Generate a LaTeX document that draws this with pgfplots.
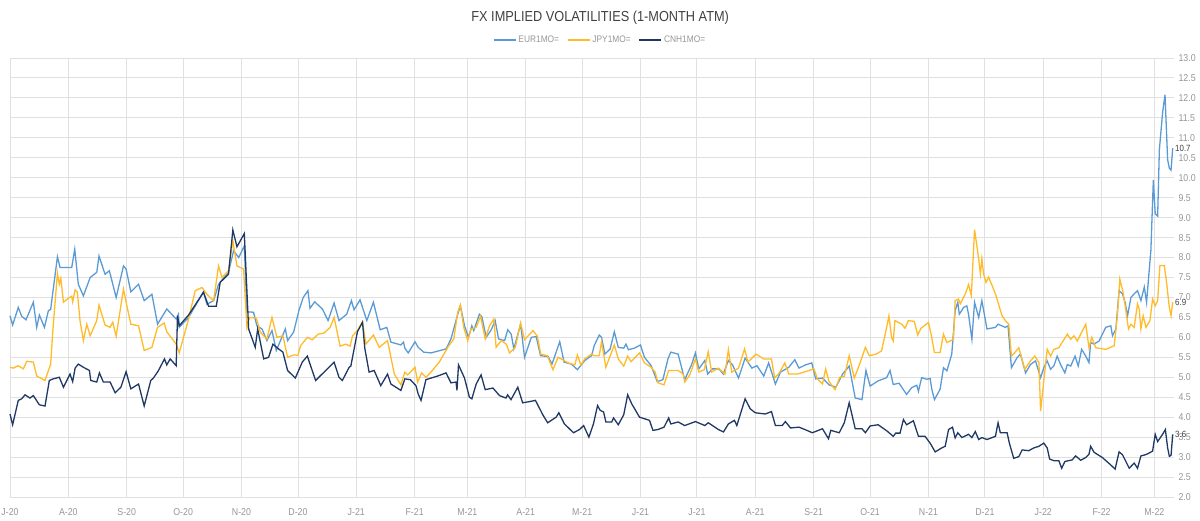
\documentclass[border=0pt]{standalone}
\usepackage{fontspec}
\setmainfont{Liberation Sans}[FakeStretch=0.88]
\usepackage{pgfplots}
\usepackage{pgfplotstable}
\pgfplotsset{compat=1.18}
\definecolor{eur}{RGB}{91,155,213}
\definecolor{jpy}{RGB}{255,187,40}
\definecolor{cnh}{RGB}{31,56,100}
\definecolor{gridc}{RGB}{224,224,224}
\definecolor{tickc}{RGB}{150,150,150}
\definecolor{titlec}{RGB}{64,64,64}

% x = days since 1 Jul 2020
\pgfplotstableread{
d v
0.0 6.54
1.4 6.31
4.4 6.75
6.2 6.53
8.5 6.44
12.4 6.88
14.2 6.25
15.6 6.56
18.3 6.25
20.4 6.67
21.6 6.70
25.2 8.02
26.6 7.75
32.8 7.75
34.4 8.21
36.3 7.33
39.0 7.04
42.6 7.50
46.1 7.63
47.3 8.04
50.5 7.58
52.8 7.67
56.4 7.00
60.3 7.79
61.7 7.71
64.2 7.14
68.3 7.33
71.3 6.92
75.4 7.08
78.4 6.33
83.3 6.71
88.3 6.46
89.5 6.58
89.9 6.25
94.9 6.50
102.8 7.14
104.6 6.83
108.2 6.92
110.8 7.33
116.1 7.63
118.8 8.17
121.5 8.00
124.5 8.29
125.9 6.64
129.4 6.63
131.2 6.29
133.9 6.21
136.5 5.92
139.2 6.17
141.5 5.67
146.3 6.21
147.5 5.92
150.7 6.13
153.5 6.67
155.8 7.00
158.3 7.17
159.4 6.73
161.9 6.89
166.0 6.71
169.0 6.42
172.2 6.86
174.8 6.42
178.9 6.58
181.4 6.92
182.8 6.69
186.0 6.94
189.6 6.42
193.1 6.88
196.7 6.19
200.2 6.25
202.4 5.88
207.7 5.81
209.1 5.88
209.8 5.73
211.6 5.61
215.2 5.89
216.9 5.75
219.8 5.63
223.7 5.61
231.7 5.71
234.3 5.96
237.9 6.58
239.3 6.79
241.5 6.29
243.6 6.00
245.4 6.29
246.4 6.17
249.4 6.58
250.7 6.52
253.0 6.00
255.7 6.19
257.8 6.42
259.6 5.96
262.8 5.92
264.5 6.19
266.3 6.08
267.7 5.71
271.3 6.33
273.4 5.50
277.0 6.00
279.6 6.02
281.9 5.54
285.9 5.52
288.0 5.33
292.1 5.89
294.4 5.38
298.3 5.33
301.5 5.19
305.4 5.42
309.0 5.54
310.4 5.79
313.1 6.06
314.3 6.00
316.1 5.58
318.9 5.71
321.1 6.14
323.2 5.75
326.1 5.73
327.3 5.83
328.6 5.69
331.8 5.73
335.0 5.81
337.1 5.50
340.7 5.29
343.9 4.89
346.9 4.94
349.6 5.46
351.1 5.63
355.0 5.58
358.5 4.94
362.1 5.31
364.2 5.61
366.0 5.21
369.2 5.42
370.7 5.08
373.2 5.21
376.7 5.21
379.0 5.08
381.7 5.42
383.9 5.31
387.1 4.98
390.6 5.48
394.2 5.23
396.9 5.29
400.5 5.03
403.1 5.36
406.7 4.83
409.4 5.13
413.8 5.25
417.0 5.44
419.2 5.23
422.7 5.31
426.0 5.36
428.1 4.96
431.7 4.98
435.2 4.81
438.8 4.75
442.4 5.08
445.9 5.28
449.1 4.48
452.7 4.44
454.8 5.17
457.0 4.78
461.3 4.91
465.8 4.99
467.6 5.17
469.3 4.82
472.4 4.85
476.4 4.57
479.1 4.74
481.8 4.80
482.7 4.65
484.4 4.99
487.1 4.95
488.9 4.97
489.8 4.70
491.2 4.44
494.2 4.70
496.0 5.24
497.8 5.16
500.4 5.58
502.2 6.67
503.6 6.88
504.4 6.58
506.7 6.75
508.4 6.79
509.3 6.58
511.1 5.95
512.5 6.88
514.7 6.50
516.4 6.92
519.1 6.21
523.6 6.25
525.0 6.33
528.9 6.25
530.3 6.29
532.1 5.24
535.1 5.49
536.9 5.58
539.6 5.11
542.2 5.32
544.9 5.41
547.6 4.99
549.3 5.24
551.1 5.41
552.9 5.20
554.7 5.29
556.4 5.53
558.2 5.32
560.5 5.11
561.8 5.32
563.6 5.28
565.9 5.53
567.6 5.28
569.4 5.70
571.6 5.53
573.3 5.37
574.2 5.87
576.0 5.83
578.7 5.91
582.2 6.25
584.9 6.29
585.8 6.04
587.6 6.21
589.3 7.17
591.1 7.09
592.5 6.88
593.8 6.54
595.6 7.00
597.3 7.09
599.1 7.17
600.9 6.92
602.7 7.26
603.9 6.88
606.2 8.18
607.5 9.94
608.5 9.10
609.8 9.04
610.7 10.70
612.4 11.62
613.7 12.08
615.1 10.45
616.0 10.24
616.9 10.19
617.8 10.74
}\eurdata

\pgfplotstableread{
d v
0.0 5.25
1.8 5.23
4.4 5.29
7.1 5.21
8.9 5.40
12.4 5.38
14.2 5.03
18.6 4.92
21.6 5.33
22.7 6.13
25.2 7.61
26.2 7.33
27.0 7.48
28.4 6.88
31.0 6.98
32.8 7.03
33.3 6.89
34.6 7.19
35.8 7.13
37.2 6.42
39.0 5.92
40.8 6.33
42.6 6.04
46.1 6.42
47.3 6.81
50.5 6.31
53.2 6.25
54.6 6.38
56.4 6.03
60.3 7.21
62.1 6.79
64.2 6.33
68.3 6.29
71.3 5.67
75.4 5.75
78.4 6.25
81.9 6.36
83.3 6.14
88.3 5.83
89.9 5.61
94.9 6.46
98.4 7.17
102.0 7.25
104.6 7.08
108.2 6.92
110.8 7.79
112.6 7.50
116.1 7.67
118.4 8.42
120.6 7.79
124.1 7.71
125.9 6.25
127.3 6.50
130.9 6.48
133.0 6.13
136.5 5.96
139.2 6.50
141.8 6.00
145.0 6.04
147.5 5.50
150.7 5.56
153.0 5.55
154.4 5.79
158.0 6.00
160.6 5.94
163.7 6.08
166.9 6.11
170.1 6.25
172.2 6.50
175.4 5.78
178.4 5.83
180.7 5.78
182.0 6.04
184.6 6.17
187.3 6.39
189.1 5.83
193.1 6.06
196.2 5.75
200.6 5.92
204.2 5.08
207.7 4.81
209.8 5.13
211.3 5.06
215.2 5.25
216.6 4.88
218.7 5.11
221.0 5.00
223.7 5.13
228.1 5.38
232.6 5.75
235.8 5.96
237.9 6.63
239.3 6.81
241.1 6.25
243.2 5.92
245.0 6.21
247.7 6.25
250.0 6.53
252.5 5.96
254.8 6.29
257.1 6.46
258.3 5.75
261.0 5.92
263.7 5.83
265.4 5.61
268.5 5.75
271.3 6.36
273.4 5.94
277.9 6.17
280.2 6.03
282.0 5.58
285.5 5.54
288.5 5.19
291.2 5.50
294.4 5.42
296.5 5.36
300.1 5.31
301.5 5.56
303.3 5.31
305.4 5.46
309.0 5.58
310.4 5.54
313.1 5.54
314.3 5.89
316.6 5.25
321.1 5.81
323.2 5.46
326.1 5.28
328.2 5.53
330.0 5.39
334.5 5.61
337.1 5.36
340.7 5.25
342.8 5.13
344.3 4.86
347.5 4.81
350.0 5.17
355.0 5.17
357.7 5.08
358.5 4.88
361.2 5.06
364.2 5.46
366.0 5.13
368.9 5.19
371.0 5.64
372.8 5.13
376.4 5.23
379.9 5.08
381.7 5.69
383.5 5.13
387.1 5.23
390.3 5.71
392.1 5.38
396.4 5.58
400.5 5.46
404.6 5.46
406.3 4.98
408.8 5.11
411.7 5.36
413.8 5.08
418.3 5.08
421.9 5.13
427.2 5.21
429.0 4.96
431.7 4.83
433.4 5.21
435.2 4.89
438.4 4.69
440.9 5.00
443.3 5.02
445.9 5.54
448.6 4.98
451.3 5.31
454.5 5.75
456.6 5.54
460.2 5.58
463.1 5.66
465.8 6.25
467.0 6.54
468.4 6.00
469.3 5.91
470.2 6.42
473.8 6.33
475.6 6.23
477.3 6.42
480.5 6.40
482.3 6.06
484.1 6.23
488.0 6.37
489.4 6.08
491.2 5.62
494.2 5.62
496.0 6.08
497.8 5.87
501.3 5.95
502.2 6.92
504.0 6.96
504.9 6.84
507.6 7.09
509.3 7.32
510.8 7.05
512.5 8.70
514.7 7.97
515.6 7.59
516.4 7.97
517.3 7.59
518.6 7.38
520.0 7.51
523.6 7.09
527.1 6.54
528.9 6.42
530.7 6.33
532.1 5.53
533.9 5.62
536.0 5.74
539.2 5.20
542.2 5.41
544.5 5.53
546.7 5.37
547.6 4.15
549.3 4.91
551.1 5.70
552.9 5.53
554.7 5.70
557.3 5.74
561.8 6.08
563.6 5.95
565.3 6.04
567.1 5.91
568.9 6.08
571.6 6.33
573.3 5.74
574.8 6.00
576.9 5.74
582.2 5.70
586.7 5.79
588.4 6.54
589.7 7.46
591.4 7.13
592.9 6.67
594.3 6.21
595.6 6.33
597.3 6.25
599.1 6.84
600.0 6.71
600.9 6.21
602.1 6.54
603.6 6.25
605.7 6.42
607.1 6.96
608.5 6.79
609.8 6.92
611.0 7.80
613.3 7.80
614.2 7.51
616.0 6.75
616.9 6.54
617.8 6.88
}\jpydata

\pgfplotstableread{
d v
0.0 4.08
1.4 3.81
4.4 4.42
6.2 4.46
8.0 4.56
10.6 4.48
12.4 4.54
13.8 4.44
15.6 4.31
18.6 4.28
20.9 4.92
23.0 4.96
26.2 5.00
28.4 4.75
31.9 5.08
33.3 4.89
34.6 5.23
36.3 5.33
39.0 5.25
42.2 5.17
42.9 4.92
46.1 4.88
47.5 5.11
49.6 4.88
53.2 4.88
55.9 4.61
58.9 4.75
61.7 5.14
64.2 4.71
68.3 4.83
71.3 4.28
74.8 4.92
76.2 4.98
78.9 5.17
82.1 5.46
83.3 5.31
85.1 5.46
88.3 5.29
89.0 6.54
89.9 6.29
94.9 6.56
102.8 7.13
105.5 6.78
109.6 6.78
111.7 7.38
116.1 7.58
118.4 8.69
120.6 8.27
124.5 8.60
126.8 6.21
130.3 5.75
131.6 6.21
134.8 5.46
137.4 5.50
139.7 5.83
142.7 5.71
145.0 5.63
147.5 5.17
151.6 4.98
155.3 5.38
158.0 5.53
159.7 5.29
162.4 4.92
166.9 5.13
172.2 5.38
174.8 5.00
176.6 4.92
180.2 5.25
181.1 5.28
184.6 6.14
187.3 6.38
188.5 5.73
190.8 5.13
193.5 5.17
197.0 4.79
200.6 5.08
202.4 4.83
207.7 4.67
209.8 4.96
212.7 4.94
215.7 4.79
216.9 4.58
218.4 4.42
221.0 4.94
223.7 4.98
227.2 5.03
231.7 5.11
234.3 4.86
237.0 4.88
237.5 4.67
238.3 5.31
241.5 4.98
244.1 4.50
245.4 4.46
247.7 4.83
250.3 5.06
252.5 4.69
256.6 4.73
260.1 4.54
263.5 4.48
264.4 4.56
266.2 4.44
269.8 4.75
272.4 4.36
276.0 4.39
279.2 4.42
283.1 4.06
285.7 3.86
290.2 4.00
291.6 4.11
294.6 3.83
299.4 3.61
302.6 3.69
304.8 3.79
307.6 3.50
310.0 3.83
312.2 4.29
313.6 4.17
315.4 4.13
316.6 3.88
319.7 3.88
320.7 3.98
323.2 3.81
326.1 4.06
328.2 4.56
330.4 4.33
334.5 4.00
339.8 3.92
341.6 3.67
344.3 3.69
347.5 3.75
350.0 3.98
351.1 3.83
355.0 3.88
358.5 3.79
364.2 3.89
369.2 3.79
371.0 3.86
376.4 3.69
379.1 3.63
381.7 3.83
384.9 3.92
386.2 3.79
390.6 4.46
393.3 4.21
396.0 4.11
401.3 4.08
404.6 4.14
406.7 3.79
410.3 3.79
412.0 3.89
414.7 3.73
419.2 3.75
422.4 3.69
426.3 3.61
431.7 3.71
434.9 3.46
436.1 3.67
440.6 3.61
443.3 3.86
445.9 4.36
449.1 3.71
452.7 3.71
454.5 3.61
457.0 3.78
461.3 3.81
465.8 3.66
469.3 3.52
470.6 3.60
472.9 3.60
474.7 3.94
476.4 3.81
480.0 3.91
482.7 3.52
486.2 3.52
488.9 3.35
491.6 3.13
495.1 3.23
496.9 3.27
498.7 3.69
500.8 3.75
502.2 3.48
503.6 3.61
505.8 3.49
509.3 3.57
511.1 3.49
512.9 3.64
514.7 3.44
516.4 3.49
519.1 3.44
523.6 3.52
525.0 3.86
526.2 3.61
529.8 3.61
531.0 3.35
533.3 2.97
536.0 3.01
537.8 3.18
541.3 3.16
544.0 3.23
546.7 3.27
549.3 3.35
551.1 3.23
552.4 2.95
554.7 2.91
557.3 2.91
558.8 2.72
560.5 2.89
564.4 2.93
566.2 3.03
568.9 2.92
571.6 2.99
573.3 3.07
574.2 3.27
576.0 3.12
580.4 2.99
584.0 2.84
587.2 2.70
589.3 3.13
591.1 3.06
594.7 2.72
597.3 2.85
599.1 2.72
600.9 3.03
602.7 3.05
604.4 3.08
607.1 3.15
608.5 3.57
609.8 3.39
612.4 3.57
613.9 3.69
615.1 3.23
616.0 3.02
616.9 3.04
617.8 3.57
}\cnhdata

\begin{document}
\begin{tikzpicture}
\begin{axis}[
  at={(10pt,24pt)}, anchor=south west,
  scale only axis, width=1164pt, height=439pt,
  xmin=0, xmax=618.5, ymin=2, ymax=13,
  clip=false,
  axis line style={draw=none},
  major tick length=0pt,
  grid=major,
  grid style={gridc, line width=0.9pt},
  xtick={0,31,62,92,123,153,184,215,243,274,304,335,365,396,427,457,488,518,549,580,608},
  xticklabels={J-20,A-20,S-20,O-20,N-20,D-20,J-21,F-21,M-21,A-21,M-21,J-21,J-21,A-21,S-21,O-21,N-21,D-21,J-22,F-22,M-22},
  xticklabel style={font=\fontsize{10}{12}\selectfont, text=tickc, yshift=-8pt},
  ytick distance=0.5,
  yticklabel pos=right,
  yticklabel style={font=\fontsize{10}{12}\selectfont, text=tickc, xshift=1pt,
    /pgf/number format/.cd, fixed, fixed zerofill, precision=1, assume math mode=true},
  legend columns=3,
  legend style={draw=none, fill=none, at={(0.507,1.041)}, anchor=center,
    font=\fontsize{9.5}{11}\selectfont, text=tickc,
    /tikz/every even column/.append style={column sep=6pt}},
  legend image code/.code={\draw[#1] (0pt,0pt) -- (22pt,0pt);},
  title={FX IMPLIED VOLATILITIES (1-MONTH ATM)},
  title style={at={(0.507,1.077)}, anchor=center, font=\fontsize{14.5}{16}\selectfont, text=titlec},
]
\addplot[eur, line width=1.3pt] table[x=d, y=v] {\eurdata};
\addlegendentry{EUR1MO=}
\addplot[jpy, line width=1.3pt] table[x=d, y=v] {\jpydata};
\addlegendentry{JPY1MO=}
\addplot[cnh, line width=1.3pt] table[x=d, y=v] {\cnhdata};
\addlegendentry{CNH1MO=}
\node[anchor=west, font=\fontsize{9}{10}\selectfont, text=titlec, inner sep=1pt] at (axis cs:618.5,10.74) {10.7};
\node[anchor=west, font=\fontsize{9}{10}\selectfont, text=titlec, inner sep=1pt] at (axis cs:618.5,6.88) {6.9};
\node[anchor=west, font=\fontsize{9}{10}\selectfont, text=titlec, inner sep=1pt] at (axis cs:618.5,3.57) {3.6};
\end{axis}
\pgfresetboundingbox
\useasboundingbox (0,0) rectangle (1200pt,521pt);
\end{tikzpicture}
\end{document}
